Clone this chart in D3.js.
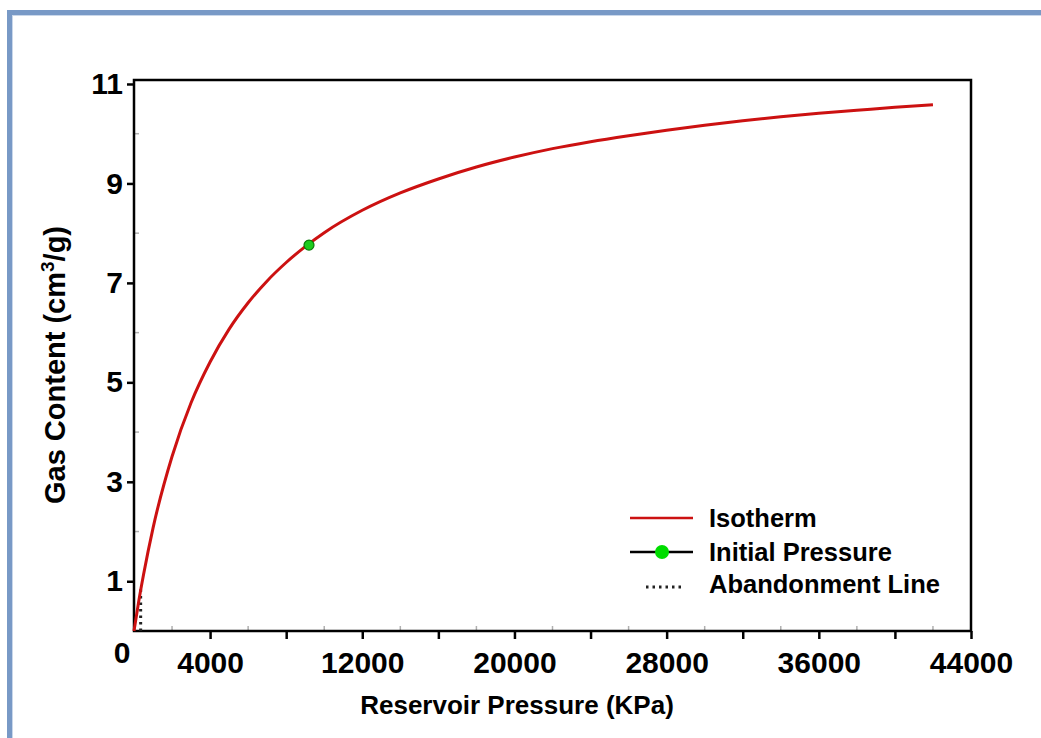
<!DOCTYPE html>
<html>
<head>
<meta charset="utf-8">
<script src="https://cdn.jsdelivr.net/npm/d3@7/dist/d3.min.js"></script>
<style>
  html, body { margin: 0; padding: 0; background: #fff; }
  svg { display: block; font-family: "Liberation Sans", Arial, sans-serif; }
</style>
</head>
<body>
<svg id="chart" width="1041" height="738"></svg>
<script>
// ---- data ----
const isothermPressure = [0, 250, 500, 1000, 2000, 3000, 4000, 5000, 6000, 7000, 8000, 9000, 10000,
  12000, 14000, 16000, 18000, 20000, 22000, 24000, 26000, 28000, 30000, 32000, 34000, 36000, 38000, 40000, 42000];
const isothermGas = [0, 0.60, 1.13, 2.07, 3.51, 4.59, 5.41, 6.07, 6.60, 7.04, 7.41, 7.73, 8.01,
  8.46, 8.81, 9.09, 9.33, 9.53, 9.70, 9.84, 9.96, 10.07, 10.17, 10.26, 10.34, 10.41, 10.47, 10.53, 10.58];
const initialPressure = [9200];
const initialGas = [7.76];
const abandonPressure = [350, 350];
const abandonGas = [0, 0.85];
const xTickValues = [4000, 8000, 12000, 16000, 20000, 24000, 28000, 32000, 36000, 40000, 44000];
const xTickLabels = ["4000", "", "12000", "", "20000", "", "28000", "", "36000", "", "44000"];
const xMinorTicks = [2000, 6000, 10000, 14000, 18000, 22000, 26000, 30000, 34000, 38000, 42000];
const yTickValues = [1, 3, 5, 7, 9, 11];
const yMinorTicks = [2, 4, 6, 8, 10];
const legendLabels = ["Isotherm", "Initial Pressure", "Abandonment Line"];
const xTitle = "Reservoir Pressure (KPa)";

// ---- layout ----
const svg = d3.select("#chart");
const L = 134, R = 971, T = 80, B = 631;
const x = d3.scaleLinear().domain([0, 44000]).range([L, R]);
const y = d3.scaleLinear().domain([0, 11.08]).range([B, T]);

// outer frame
svg.append("rect").attr("x", 9.5).attr("y", 12.5).attr("width", 1100).attr("height", 800)
  .attr("fill", "none").attr("stroke", "#7899c6").attr("stroke-width", 5);
svg.append("rect").attr("x", 12.5).attr("y", 15.5).attr("width", 1100).attr("height", 800)
  .attr("fill", "none").attr("stroke", "#c9d7ea").attr("stroke-width", 1);

// minor ticks
svg.append("g").selectAll("line").data(xMinorTicks).join("line")
  .attr("x1", d => x(d)).attr("x2", d => x(d)).attr("y1", B - 5).attr("y2", B)
  .attr("stroke", "#b0b0b0").attr("stroke-width", 1.5);
svg.append("g").selectAll("line").data(yMinorTicks).join("line")
  .attr("y1", d => y(d)).attr("y2", d => y(d)).attr("x1", L).attr("x2", L + 5)
  .attr("stroke", "#b0b0b0").attr("stroke-width", 1.5);

// axes
const xAxis = d3.axisBottom(x).tickValues(xTickValues)
  .tickFormat((d, i) => xTickLabels[i]).tickSize(8).tickSizeOuter(0).tickPadding(13);
const gx = svg.append("g").attr("transform", `translate(0,${B})`).call(xAxis);
gx.select(".domain").remove();
gx.selectAll(".tick line").attr("stroke", "#000").attr("stroke-width", 2.5);
gx.selectAll(".tick text").attr("font-size", 30).attr("font-weight", "bold").attr("fill", "#000")
  .attr("font-family", "Liberation Sans, Arial, sans-serif");

const yAxis = d3.axisLeft(y).tickValues(yTickValues).tickFormat(d3.format("d"))
  .tickSize(7).tickSizeOuter(0).tickPadding(4);
const gy = svg.append("g").attr("transform", `translate(${L},0)`).call(yAxis);
gy.select(".domain").remove();
gy.selectAll(".tick line").attr("stroke", "#000").attr("stroke-width", 2.5);
gy.selectAll(".tick text").attr("font-size", 30).attr("font-weight", "bold").attr("fill", "#000")
  .attr("font-family", "Liberation Sans, Arial, sans-serif");

// "0" at the origin
svg.append("text").attr("x", x(0) - 12).attr("y", y(0) + 32).attr("text-anchor", "middle")
  .attr("font-size", 30).attr("font-weight", "bold").text("0");

// plot frame
svg.append("rect").attr("x", L).attr("y", T).attr("width", R - L).attr("height", B - T)
  .attr("fill", "none").attr("stroke", "#000").attr("stroke-width", 2.5);

// abandonment line
const abandonData = abandonPressure.map((p, i) => [p, abandonGas[i]]);
svg.append("path").datum(abandonData)
  .attr("d", d3.line().x(d => x(d[0])).y(d => y(d[1])))
  .attr("stroke", "#222").attr("stroke-width", 3).attr("stroke-dasharray", "2.5,4").attr("fill", "none");

// isotherm
const isoData = isothermPressure.map((p, i) => [p, isothermGas[i]]);
svg.append("path").datum(isoData)
  .attr("d", d3.line().x(d => x(d[0])).y(d => y(d[1])).curve(d3.curveMonotoneX))
  .attr("stroke", "#cc1111").attr("stroke-width", 3).attr("fill", "none");

// initial pressure point
svg.append("g").selectAll("circle").data(initialPressure.map((p, i) => [p, initialGas[i]])).join("circle")
  .attr("cx", d => x(d[0])).attr("cy", d => y(d[1])).attr("r", 5)
  .attr("fill", "#1ecb1e").attr("stroke", "#0a7a0a").attr("stroke-width", 1.2);

// axis titles
svg.append("text").attr("x", 517).attr("y", 714).attr("text-anchor", "middle")
  .attr("font-size", 26).attr("font-weight", "bold").text(xTitle);
const yt = svg.append("text").attr("transform", "translate(65,365) rotate(-90)")
  .attr("text-anchor", "middle").attr("font-size", 29).attr("font-weight", "bold");
yt.append("tspan").text("Gas Content (cm");
yt.append("tspan").attr("font-size", 19).attr("dy", -11).text("3");
yt.append("tspan").attr("dy", 11).text("/g)");

// legend
const lg = svg.append("g");
const ly = [518, 552, 584];
lg.append("line").attr("x1", 630).attr("x2", 693).attr("y1", ly[0]).attr("y2", ly[0])
  .attr("stroke", "#cc1111").attr("stroke-width", 2.5);
lg.append("line").attr("x1", 630).attr("x2", 693).attr("y1", ly[1]).attr("y2", ly[1])
  .attr("stroke", "#000").attr("stroke-width", 2.5);
lg.append("circle").attr("cx", 662).attr("cy", ly[1]).attr("r", 7).attr("fill", "#00dd00");
lg.append("line").attr("x1", 646).attr("x2", 684).attr("y1", ly[2] + 3).attr("y2", ly[2] + 3)
  .attr("stroke", "#222").attr("stroke-width", 3).attr("stroke-dasharray", "2.5,4");
lg.selectAll("text").data(legendLabels).join("text")
  .attr("x", 709).attr("y", (d, i) => ly[i] + 9)
  .attr("font-size", 25.5).attr("font-weight", "bold").text(d => d);
</script>
</body>
</html>
